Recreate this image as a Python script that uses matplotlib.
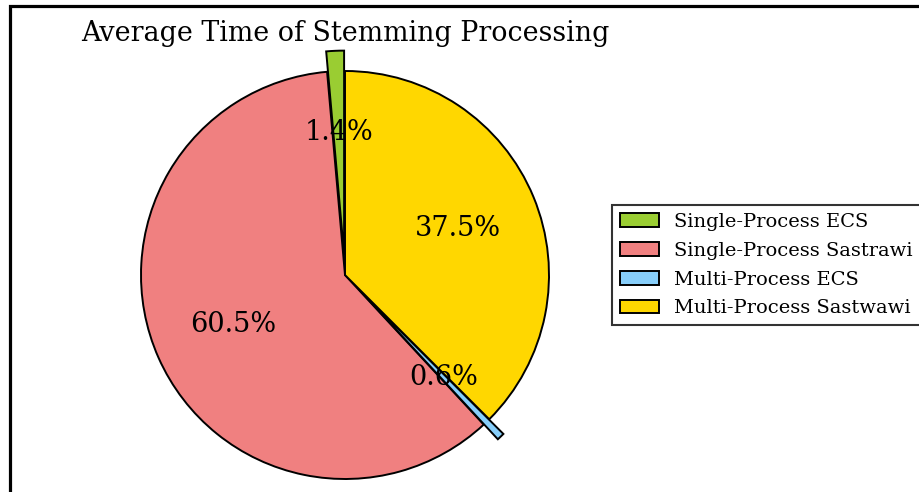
import matplotlib.pyplot as plt
from matplotlib.patches import Rectangle

labels = ['Single-Process ECS', 'Single-Process Sastrawi',
          'Multi-Process ECS', 'Multi-Process Sastwawi']
shares = [1.4, 60.5, 0.6, 37.5]
colors = ['yellowgreen', 'lightcoral', 'lightskyblue', 'gold']
explode = [0.1, 0, 0.1, 0]

plt.rcParams['font.family'] = 'DejaVu Serif'

W, H = 919, 492
fig = plt.figure(figsize=(W / 100, H / 100), dpi=100)

# pie centre at (345, 275) px from top-left, radius 204 px
cx, cy, r = 345, 275, 204
half = 1.25 * r
ax = fig.add_axes([(cx - half) / W, (H - cy - half) / H, 2 * half / W, 2 * half / H])

wedges, texts, autotexts = ax.pie(
    shares, explode=explode, colors=colors, autopct='%1.1f%%',
    startangle=90,
    wedgeprops=dict(edgecolor='black', linewidth=1.4),
    textprops=dict(fontsize=19.5))
ax.set_aspect('auto')
ax.set_xlim(-1.25, 1.25)
ax.set_ylim(-1.25, 1.25)

fig.text(81 / W, 1 - 33 / H, 'Average Time of Stemming Processing', fontsize=19.4,
         va='center', ha='left')

leg = fig.legend(wedges, labels, loc='upper left',
                 bbox_to_anchor=(612 / W, 1 - 205 / H),
                 fontsize=14, frameon=True, fancybox=False,
                 edgecolor='black', borderaxespad=0, labelspacing=0.56)
leg.get_frame().set_linewidth(1.5)

# outer frame around the figure
fig.patches.append(Rectangle((9.5 / W, -0.1), 1.0, 1 - 6 / H + 0.1,
                             transform=fig.transFigure, fill=False,
                             edgecolor='black', linewidth=2.3))

plt.savefig('out.png', dpi=100)
